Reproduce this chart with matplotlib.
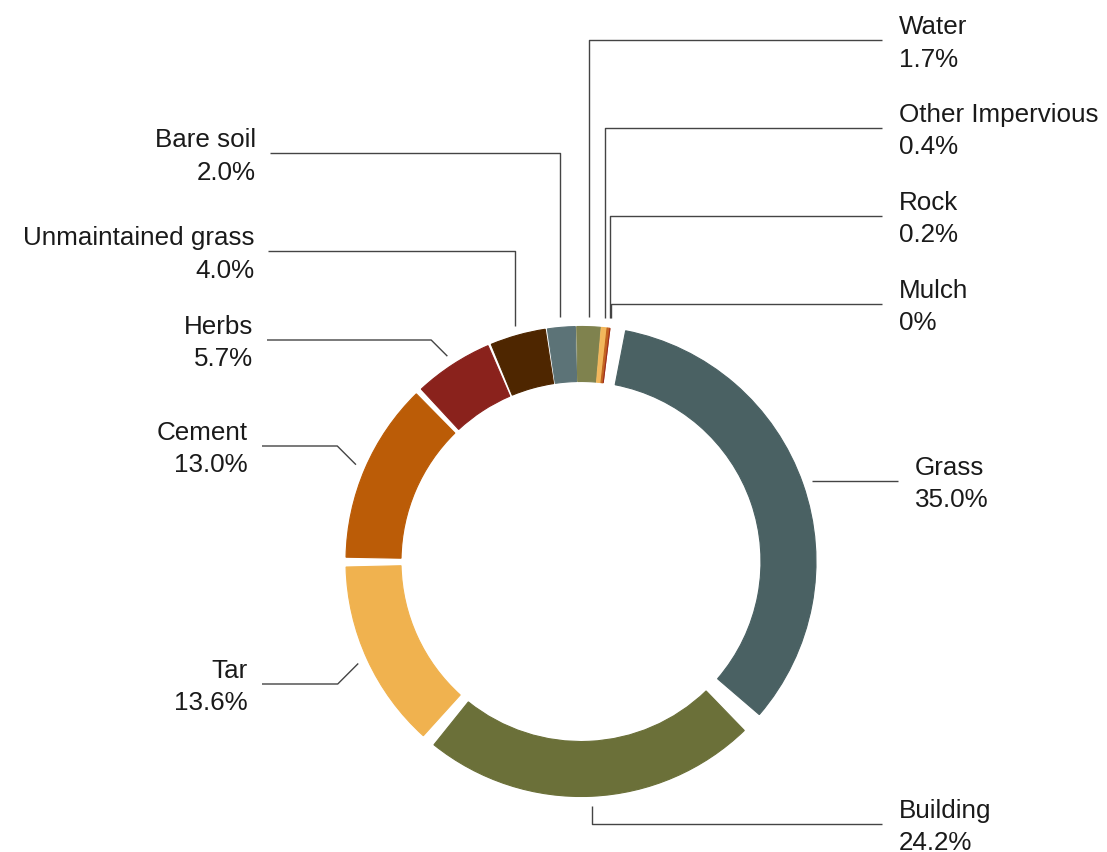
import numpy as np
import matplotlib.pyplot as plt

plt.rcParams['font.family'] = ['Liberation Sans', 'DejaVu Sans']

# land cover shares (percent), clockwise from the top
categories = ['Grass', 'Building', 'Tar', 'Cement', 'Herbs', 'Unmaintained grass',
              'Bare soil', 'Water', 'Other Impervious', 'Rock', 'Mulch']
shares = [35.0, 24.2, 13.6, 13.0, 5.7, 4.0, 2.0, 1.7, 0.4, 0.2, 0.0]
pct_labels = ['35.0%', '24.2%', '13.6%', '13.0%', '5.7%', '4.0%',
              '2.0%', '1.7%', '0.4%', '0.2%', '0%']

colors = ['#4a6163', '#6b7039', '#f0b24f', '#bb5c07', '#8a221c', '#4e2600',
          '#5c7377', '#7f824e', '#f2b75c', '#c2621e', '#9c2c22']

W, H = 1107, 853
cx, cy = 581, H - 562.5
r_out, ring = 235, 55
start = 7.8   # degrees clockwise from 12 o'clock
keep = 0.95   # each slice keeps this share of its arc, the rest is white space

# label layout: y of the leader's horizontal run and where it stops
label_y = [482, 825, 685, 447, 341, 252, 154, 41, 129, 217, 305]
line_end = [898, 882, 262, 262, 267, 268, 270, 882, 882, 882, 882]

fig = plt.figure(figsize=(W / 100, H / 100), dpi=100)
ax = fig.add_axes([0, 0, 1, 1])

wedges, _ = ax.pie([s / 100 for s in shares], colors=colors, normalize=False,
                   startangle=90 - start, counterclock=False, radius=r_out,
                   center=(cx, cy),
                   wedgeprops=dict(width=ring, linewidth=0.8))
for w, c in zip(wedges, colors):
    w.set_edgecolor(c)
    m = (w.theta1 + w.theta2) / 2
    h = (w.theta2 - w.theta1) / 2 * keep
    w.set_theta1(m - h)
    w.set_theta2(m + h)

ax.set_aspect('equal')
ax.set_xlim(0, W)
ax.set_ylim(0, H)
ax.axis('off')

def radial(bearing, r):
    a = np.radians(bearing)
    return cx + r * np.sin(a), cy + r * np.cos(a)

bounds = start + np.cumsum([0] + shares) * 3.6

# leader lines and labels
line_kw = dict(color='#444444', lw=1.0, solid_capstyle='butt')
text_kw = dict(fontsize=18.7, color='#1a1a1a', va='baseline')
r_anchor = 245
for i, name in enumerate(categories):
    mid = (bounds[i] + bounds[i + 1]) / 2
    ax_, ay_ = radial(mid, r_anchor)
    ly = H - label_y[i]
    ex = line_end[i]
    if abs(ay_ - ly) < 3:
        xs, ys = [ax_, ex], [ly, ly]
    elif name in ('Herbs', 'Cement', 'Tar'):
        ex0 = ax_ - abs(ay_ - ly)
        xs, ys = [ax_, ex0, ex], [ay_, ly, ly]
    else:
        xs, ys = [ax_, ax_, ex], [ay_, ly, ly]
    ax.plot(xs, ys, **line_kw)

    if ex > ax_:
        tx, ha = ex + 17, 'left'
    else:
        tx, ha = ex - 14, 'right'
    ax.text(tx, ly + 7, name, ha=ha, **text_kw)
    ax.text(tx, ly - 25.5, pct_labels[i], ha=ha, **text_kw)

fig.savefig('out.png', dpi=100, facecolor='white')
